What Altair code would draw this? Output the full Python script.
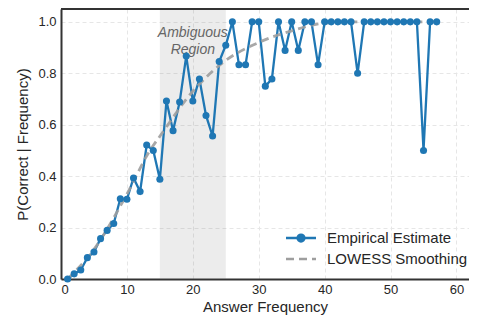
import altair as alt
import pandas as pd

# Empirical estimate of P(correct | frequency)
freq = [1, 2, 3, 4, 5, 6, 7, 8, 9, 10, 11, 12, 13, 14, 15, 16, 17, 18, 19, 20,
        21, 22, 23, 24, 25, 26, 27, 28, 29, 30, 31, 32, 33, 34, 35, 36, 37, 38, 39, 40,
        41, 42, 43, 44, 45, 46, 47, 48, 49, 50, 51, 52, 53, 54, 55, 56, 57]
p_correct = [0.0, 0.02, 0.035, 0.083, 0.105, 0.157, 0.189, 0.216, 0.312, 0.31,
             0.393, 0.34, 0.521, 0.5, 0.388, 0.692, 0.577, 0.688, 0.867, 0.692,
             0.778, 0.636, 0.556, 0.846, 0.909, 1.0, 0.833, 0.833, 1.0, 1.0,
             0.75, 0.778, 1.0, 0.889, 1.0, 0.889, 1.0, 1.0, 0.833, 1.0,
             1.0, 1.0, 1.0, 1.0, 0.8, 1.0, 1.0, 1.0, 1.0, 1.0,
             1.0, 1.0, 1.0, 1.0, 0.5, 1.0, 1.0]

# LOWESS smoothing curve (read at selected frequencies)
lowess_x = [1, 5, 10, 13.5, 15, 20, 25, 30, 35, 40, 45, 57]
lowess_y = [0.0, 0.115, 0.33, 0.5, 0.555, 0.73, 0.85, 0.92, 0.965, 0.995, 1.0, 1.0]

# Ambiguous region
region_start = [15]
region_end = [25]
annot_x = [20, 20]
annot_y = [0.955, 0.89]
annot_text = ["Ambiguous", "Region"]

x_ticks = [0, 10, 20, 30, 40, 50, 60]
y_ticks = [0.0, 0.2, 0.4, 0.6, 0.8, 1.0]
EMP_NAME = "Empirical Estimate"
LOW_NAME = "LOWESS Smoothing"
EMP_COLOR = "#1f77b4"
LOW_COLOR = "#9e9e9e"

FONT = "Liberation Sans"
TXT = "#262626"

emp = pd.DataFrame({"freq": freq, "p": p_correct, "series": EMP_NAME})
low = pd.DataFrame({"freq": lowess_x, "p": lowess_y, "series": LOW_NAME})
reg = pd.DataFrame({"start": region_start, "end": region_end})
ann = pd.DataFrame({"x": annot_x, "y": annot_y, "t": annot_text})
top = pd.DataFrame({"y": [1.05]})

xscale = alt.Scale(domain=[0, 61.9], nice=False, zero=False)
yscale = alt.Scale(domain=[0, 1.05], nice=False)

xaxis = alt.Axis(values=x_ticks, title="Answer Frequency", format="d", ticks=False,
                 labelPadding=4, titlePadding=3, grid=True)
yaxis = alt.Axis(values=y_ticks, title="P(Correct | Frequency)", format=".1f", ticks=False,
                 labelPadding=5, titlePadding=7, grid=True)

sym_emp = "M-2,0L2,0M0.45,0A0.45,0.45,0,1,1,-0.45,0A0.45,0.45,0,1,1,0.45,0Z"
sym_low = "M-2,0L2,0"

emp_legend = alt.Legend(
    title=None, orient="none", legendX=231, legendY=220,
    symbolType=sym_emp, symbolSize=225, symbolStrokeWidth=2.5,
    symbolFillColor=EMP_COLOR, symbolStrokeColor=EMP_COLOR, symbolOpacity=1,
    labelFontSize=15, labelFont=FONT, labelColor=TXT, labelOffset=17,
)
low_legend = alt.Legend(
    title=None, orient="none", legendX=231, legendY=241,
    symbolType=sym_low, symbolSize=225, symbolStrokeWidth=2.5,
    symbolStrokeColor=LOW_COLOR, symbolDash=[7, 4], symbolOpacity=1,
    labelFontSize=15, labelFont=FONT, labelColor=TXT, labelOffset=17,
)

region = alt.Chart(reg).mark_rect(color="#808080", opacity=0.15).encode(
    x=alt.X("start:Q", scale=xscale, axis=xaxis),
    x2="end:Q",
)

annot = alt.Chart(ann).mark_text(font=FONT, fontSize=14, fontStyle="italic",
                                 color="#666666", baseline="middle").encode(
    x=alt.X("x:Q", scale=xscale),
    y=alt.Y("y:Q", scale=yscale, axis=yaxis),
    text="t:N",
)

emp_line = alt.Chart(emp).mark_line(strokeWidth=2.3, color=EMP_COLOR).encode(
    x=alt.X("freq:Q", scale=xscale),
    y=alt.Y("p:Q", scale=yscale),
)

low_line = alt.Chart(low).mark_line(strokeWidth=2.8, interpolate="monotone",
                                    opacity=0.9, color=LOW_COLOR).encode(
    x=alt.X("freq:Q", scale=xscale),
    y=alt.Y("p:Q", scale=yscale),
    strokeDash=alt.StrokeDash("series:N", scale=alt.Scale(domain=[LOW_NAME], range=[[8, 5]]),
                              legend=low_legend),
)

emp_pts = alt.Chart(emp).mark_point(filled=True, size=50, opacity=1, shape="circle").encode(
    x=alt.X("freq:Q", scale=xscale),
    y=alt.Y("p:Q", scale=yscale),
    color=alt.Color("series:N", scale=alt.Scale(domain=[EMP_NAME], range=[EMP_COLOR]),
                    legend=emp_legend),
)

top_rule = alt.Chart(top).mark_rule(color="#333333", strokeWidth=2).encode(
    y=alt.Y("y:Q", scale=yscale),
)

chart = alt.layer(region, annot, emp_line, low_line, emp_pts, top_rule).properties(
    width=408, height=270,
    autosize=alt.AutoSizeParams(type="none"),
    padding={"left": 53, "top": 1, "right": 0, "bottom": 38},
).resolve_legend(color="independent", strokeDash="independent").configure_view(
    stroke=None
).configure_axis(
    labelFont=FONT, titleFont=FONT, labelFontSize=13, titleFontSize=15,
    labelColor=TXT, titleColor=TXT, titleFontWeight="normal",
    domainColor="#333333", domainWidth=2,
    gridColor="#e6e6e6", gridDash=[4, 3], gridWidth=1,
)

chart.save("out.html", embed_options={"renderer": "svg", "actions": False})
